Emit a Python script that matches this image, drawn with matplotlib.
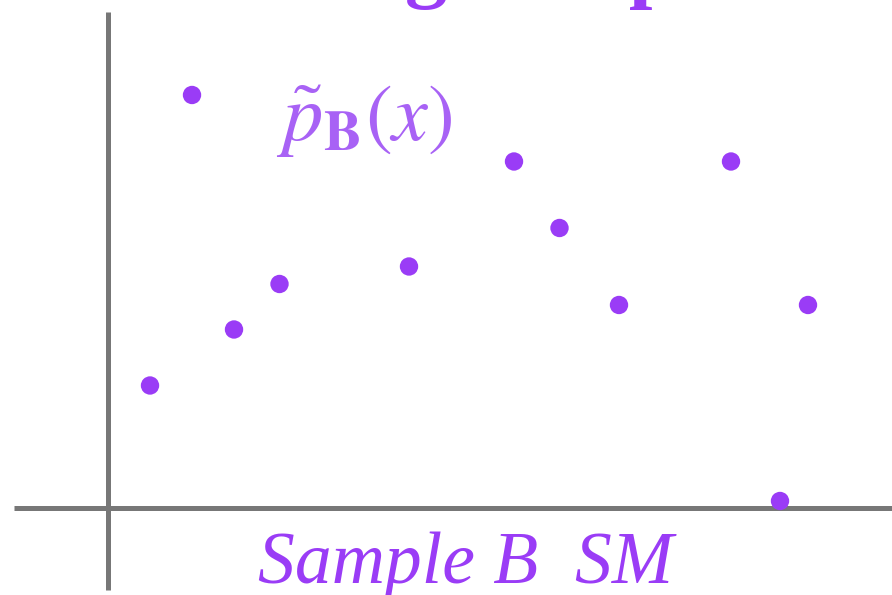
import numpy as np
import matplotlib.pyplot as plt

# sample points (x, weighted density)
xs = [0.6, 1.2, 1.8, 2.45, 4.3, 5.8, 6.45, 7.3, 8.9, 9.6, 10.0]
ys = [1.75, 5.9, 2.55, 3.2, 3.45, 4.95, 4.0, 2.9, 4.95, 0.1, 2.9]

title = "Training Samples"
density_label = r"$\tilde{p}_{\mathbf{B}}(x)$"
sample_label = "Sample B  SM"

point_color = "#9a3cf6"
label_color = "#a862f5"
axis_color = "#777777"

plt.rcParams["mathtext.fontset"] = "stix"

fig = plt.figure(figsize=(8.92, 5.95), dpi=100)
ax = fig.add_axes([0, 0, 1, 1])
ax.set_xlim(-1.543, 11.2)
ax.set_ylim(-1.243, 7.257)
ax.axis("off")

# axes drawn by hand, crossing at the origin
ax.plot([-1.343, 11.2], [0, 0], color=axis_color, lw=3.6, solid_capstyle="butt", zorder=1)
ax.plot([0, 0], [-1.171, 7.086], color=axis_color, lw=3.6, solid_capstyle="butt", zorder=1)

ax.scatter(xs, ys, s=175, color=point_color, edgecolors="none", zorder=3)

ax.text(2.4, 5.26, density_label, fontsize=58, color=label_color,
        ha="left", va="baseline")
ax.text(2.14, -1.07, sample_label, fontsize=53, color=point_color,
        family="Liberation Serif", style="italic", ha="left", va="baseline")
ax.text(0.36, 7.37, title, fontsize=61, color=point_color,
        family="Liberation Serif", weight="bold", ha="left", va="baseline")

fig.savefig("out.png", dpi=100)
